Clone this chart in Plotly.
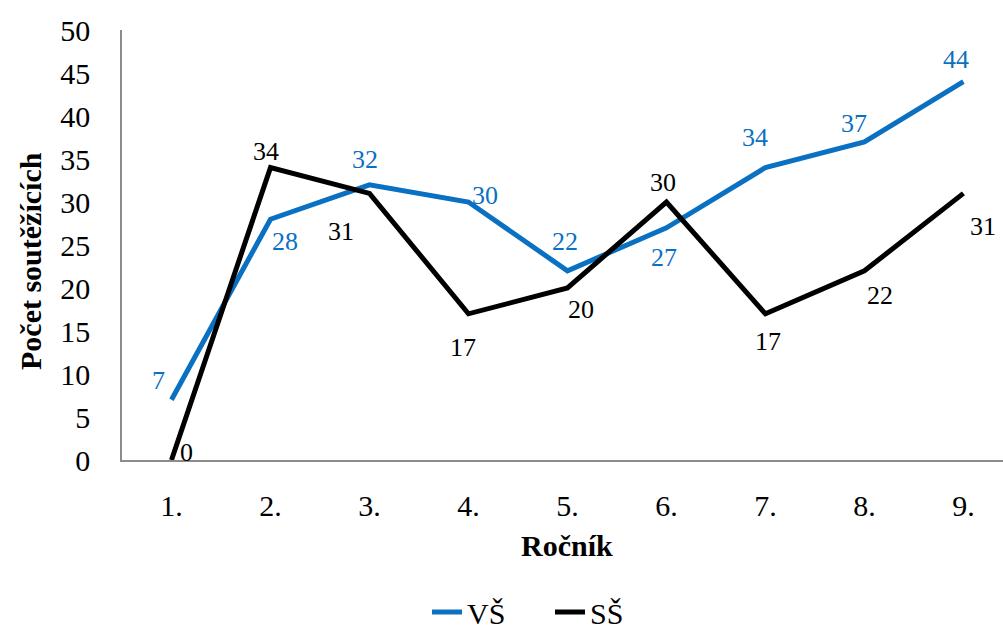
import plotly.graph_objects as go

# Data
rocnik = ["1.", "2.", "3.", "4.", "5.", "6.", "7.", "8.", "9."]
vs = [7, 28, 32, 30, 22, 27, 34, 37, 44]
ss = [0, 34, 31, 17, 20, 30, 17, 22, 31]

# Pixel offsets of each value label relative to its point
vs_shift = [(-13, 19), (15, -22), (-4, 25), (17, 7), (-2, 29),
            (-2, -30), (-10, 30), (-10, 18), (-7, 22)]
ss_shift = [(15, 8), (-4, 16), (-28, -38), (-5, -34), (14, -21),
            (-3, 20), (3, -28), (16, -25), (20, -33)]

BLUE = "#0A70C2"
FONT = "'Liberation Serif', 'Times New Roman', serif"

fig = go.Figure()
fig.add_trace(go.Scatter(x=rocnik, y=vs, name="VŠ", mode="lines",
                         line=dict(color=BLUE, width=5)))
fig.add_trace(go.Scatter(x=rocnik, y=ss, name="SŠ", mode="lines",
                         line=dict(color="black", width=5)))

annotations = []
for vals, shifts, color in ((vs, vs_shift, BLUE), (ss, ss_shift, "black")):
    # category position given by index so "1." is not read as the number 1
    for i, (v, (dx, dy)) in enumerate(zip(vals, shifts)):
        annotations.append(dict(
            x=i, y=v, xref="x", yref="y", text=str(v), showarrow=False,
            xshift=dx, yshift=dy, xanchor="center", yanchor="middle",
            font=dict(family=FONT, size=26, color=color)))

annotations += [
    dict(text="<b>Počet soutěžících</b>", xref="paper", yref="paper",
         x=(30 - 122) / 881, y=(460 - 261) / 430, xanchor="center", yanchor="middle",
         textangle=-90, showarrow=False, font=dict(family=FONT, size=30)),
    dict(text="<b>Ročník</b>", xref="paper", yref="paper",
         x=(567 - 122) / 881, y=(460 - 545) / 430, xanchor="center", yanchor="middle",
         showarrow=False, font=dict(family=FONT, size=30)),
]

fig.update_layout(
    width=1003, height=630,
    margin=dict(l=122, r=0, t=30, b=170, autoexpand=False),
    paper_bgcolor="white", plot_bgcolor="white",
    font=dict(family=FONT, color="black"),
    showlegend=True,
    legend=dict(orientation="h", x=(427 - 122) / 881, xanchor="left",
                y=(460 - 612) / 430, yanchor="middle",
                entrywidth=78, entrywidthmode="pixels",
                font=dict(family=FONT, size=30)),
    xaxis=dict(
        type="category", range=[-0.5, 8.4],
        showgrid=False, zeroline=False,
        showline=True, linecolor="#8c8c8c", linewidth=1.5,
        ticks="", tickfont=dict(family=FONT, size=30), ticklabelstandoff=18,
    ),
    yaxis=dict(
        range=[0, 50], dtick=5,
        showgrid=False, zeroline=False,
        showline=True, linecolor="#8c8c8c", linewidth=1.5,
        ticks="", tickfont=dict(family=FONT, size=30), ticklabelstandoff=24,
    ),
    annotations=annotations,
)

fig.write_html("out.html")
